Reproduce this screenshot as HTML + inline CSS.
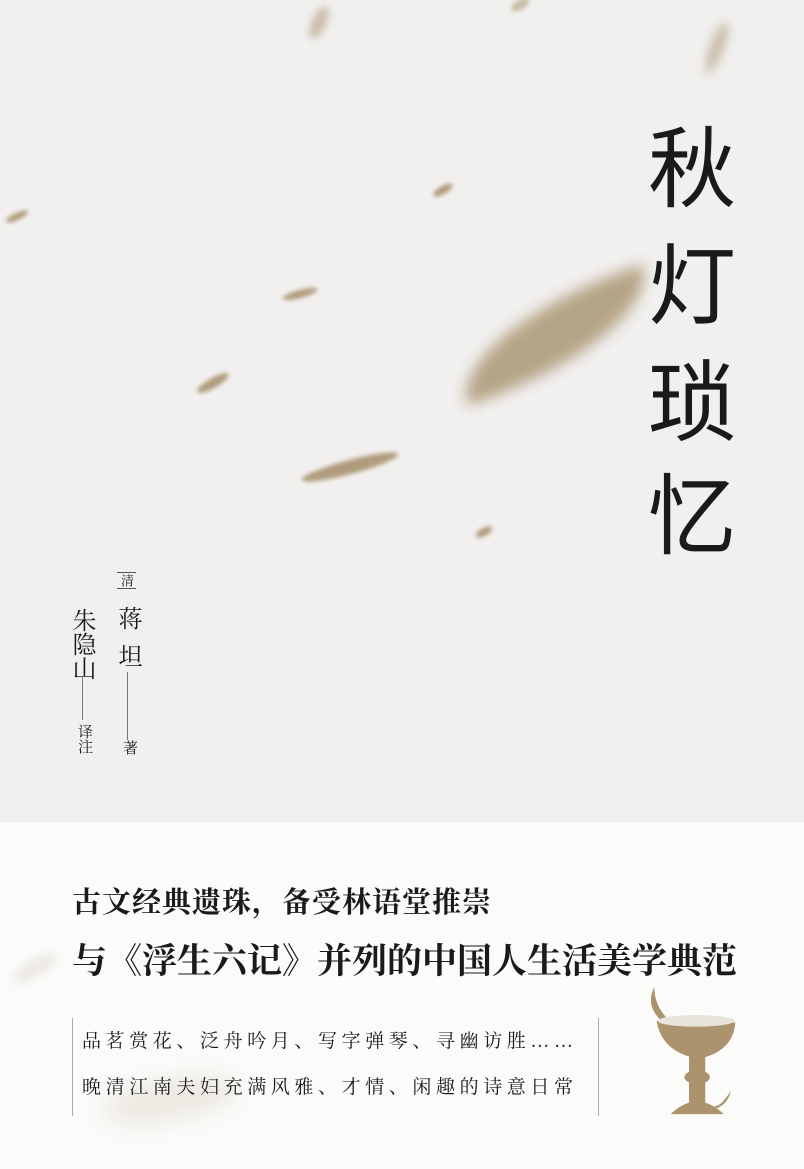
<!DOCTYPE html>
<html><head><meta charset="utf-8"><style>
body{margin:0}
#c{position:relative;width:804px;height:1169px;overflow:hidden;background:#f1f0ee;font-family:"Liberation Serif","Noto Serif CJK SC",serif;color:#1a1a1a}
.t{position:absolute;font-family:"Liberation Sans","Noto Sans CJK SC",sans-serif;font-size:88px;line-height:88px;left:648px;font-weight:400}
.p{position:absolute;background:#b09c7c;border-radius:50%;filter:blur(2px)}
.v{position:absolute;writing-mode:vertical-rl}
.ln{position:absolute;width:1px;background:#777}
</style></head><body>
<div id="c">
<div style="position:absolute;left:0;top:822px;width:804px;height:347px;background:#fbfbfa"></div>
<div class="p" style="left:450px;top:295px;width:210px;height:80px;border-radius:100% 0 100% 0;transform:rotate(-18deg);filter:blur(7px);opacity:.9"></div>
<div class="p" style="left:300px;top:460px;width:100px;height:14px;transform:rotate(-15deg)"></div>
<div class="p" style="left:195px;top:378px;width:36px;height:10px;transform:rotate(-30deg)"></div>
<div class="p" style="left:282px;top:290px;width:36px;height:8px;transform:rotate(-15deg)"></div>
<div class="p" style="left:432px;top:186px;width:22px;height:8px;transform:rotate(-30deg)"></div>
<div class="p" style="left:5px;top:213px;width:24px;height:7px;transform:rotate(-25deg)"></div>
<div class="p" style="left:312px;top:5px;width:14px;height:35px;transform:rotate(25deg);filter:blur(4px);opacity:.6"></div>
<div class="p" style="left:710px;top:20px;width:14px;height:55px;transform:rotate(20deg);filter:blur(5px);opacity:.6"></div>
<div class="p" style="left:475px;top:528px;width:18px;height:8px;transform:rotate(-30deg)"></div>
<div class="p" style="left:510px;top:0px;width:20px;height:10px;transform:rotate(-30deg);opacity:.6"></div>
<div class="p" style="left:100px;top:1080px;width:140px;height:40px;transform:rotate(-10deg);filter:blur(12px);opacity:.2"></div>
<div class="p" style="left:10px;top:960px;width:50px;height:16px;transform:rotate(-30deg);filter:blur(5px);opacity:.2"></div>

<div class="t" style="top:126px">秋</div>
<div class="t" style="top:243px">灯</div>
<div class="t" style="top:360px">琐</div>
<div class="t" style="top:473px">忆</div>

<div class="v" style="left:117px;top:572px;font-size:13px;border-top:1px solid #555;border-bottom:1px solid #555;padding:1px 0">清</div>
<div class="v" style="left:114px;top:606px;font-size:24px;line-height:26px;letter-spacing:14px">蒋坦</div>
<div class="ln" style="left:127px;top:672px;height:68px"></div>
<div class="v" style="left:119px;top:740px;font-size:15px">著</div>
<div class="v" style="left:68px;top:608px;font-size:24px;line-height:26px;letter-spacing:0">朱隐山</div>
<div class="ln" style="left:82px;top:676px;height:44px"></div>
<div class="v" style="left:74px;top:724px;font-size:15px">译注</div>

<div style="position:absolute;left:72px;top:880px;font-size:29px;font-weight:bold;letter-spacing:1px">古文经典遗珠，备受林语堂推崇</div>
<div style="position:absolute;left:72px;top:934px;font-size:35px;font-weight:bold;letter-spacing:0">与《浮生六记》并列的中国人生活美学典范</div>
<div class="ln" style="left:72px;top:1018px;height:98px;background:#aaa"></div>
<div class="ln" style="left:598px;top:1018px;height:98px;background:#aaa"></div>
<div style="position:absolute;left:82px;top:1026px;font-size:19px;letter-spacing:4.6px">品茗赏花、泛舟吟月、写字弹琴、寻幽访胜……</div>
<div style="position:absolute;left:82px;top:1072px;font-size:19px;letter-spacing:4.6px">晚清江南夫妇充满风雅、才情、闲趣的诗意日常</div>

<svg style="position:absolute;left:645px;top:982px" width="95" height="136" viewBox="0 0 82 140" preserveAspectRatio="none">
<g fill="#ab936d">
<path d="M8 5 C2 20 6 30 14 40 L18 36 C12 28 8 18 8 5Z"/>
<path d="M10 40 Q45 32 78 42 Q76 70 50 78 L42 78 Q14 70 10 40Z"/>
<ellipse cx="44" cy="40" rx="33" ry="6" fill="#e9e4da"/>
<rect x="38" y="76" width="14" height="50"/>
<ellipse cx="45" cy="98" rx="11" ry="7"/>
<path d="M22 136 Q45 110 68 136Z"/>
<path d="M62 130 Q72 125 74 112 Q66 128 60 128Z"/>
</g></svg>
</div>
</body></html>
